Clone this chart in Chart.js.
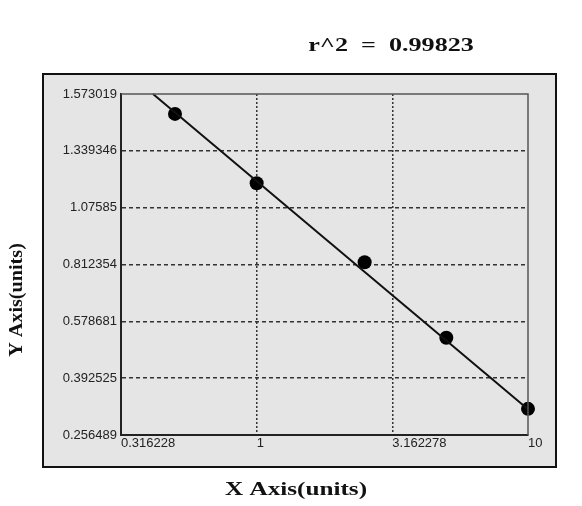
<!DOCTYPE html>
<html>
<head>
<meta charset="utf-8">
<script src="https://cdn.jsdelivr.net/npm/chart.js@4/dist/chart.umd.min.js"></script>
<style>
  html, body { margin: 0; padding: 0; background: #fff; }
  #wrap { width: 582px; height: 506px; }
</style>
</head>
<body>
<div id="wrap"><canvas id="c" width="582" height="506"></canvas></div>
<script>
const xTicks = [0.316228, 1, 3.162278, 10];
const xTickLabels = ["0.316228", "1", "3.162278", "10"];
const yTicks = [0.256489, 0.392525, 0.578681, 0.812354, 1.07585, 1.339346, 1.573019];

// standard points
const xValues = [0.5, 1, 2.5, 5, 10];
const yValues = [1.4912, 1.1892, 0.8229, 0.5247, 0.3191];

// fitted line end points
const fitX = [0.415, 10];
const fitY = [1.573019, 0.318];

const titleText = "r^2  =  0.99823";
const xTitle = "X Axis(units)";
const yTitle = "Y Axis(units)";

// y axis is spaced evenly between its tick values
function yPos(v) {
  for (let i = 0; i < yTicks.length - 1; i++) {
    if (v <= yTicks[i + 1] || i === yTicks.length - 2) {
      return i + (v - yTicks[i]) / (yTicks[i + 1] - yTicks[i]);
    }
  }
  return 0;
}

// text in the picture is stretched sideways
function wideText(ctx, text, x, y, sx) {
  ctx.save();
  ctx.translate(x, y);
  ctx.scale(sx, 1);
  ctx.fillText(text, 0, 0);
  ctx.restore();
}

const panelPlugin = {
  id: "panel",
  beforeDraw(chart) {
    const ctx = chart.ctx;
    ctx.save();
    ctx.fillStyle = "#e5e5e5";
    ctx.fillRect(43, 74, 513, 393);
    ctx.strokeStyle = "#111";
    ctx.lineWidth = 2;
    ctx.strokeRect(43, 74, 513, 393);
    ctx.restore();
  },
  afterDatasetsDraw(chart) {
    const ctx = chart.ctx;
    const a = chart.chartArea;
    ctx.save();
    ctx.strokeStyle = "#555";
    ctx.lineWidth = 1.5;
    ctx.beginPath();
    ctx.moveTo(a.left, a.top);
    ctx.lineTo(a.right, a.top);
    ctx.lineTo(a.right, a.bottom);
    ctx.stroke();
    ctx.restore();
  },
  afterDraw(chart) {
    const ctx = chart.ctx;
    ctx.save();
    ctx.fillStyle = "#111";
    ctx.font = 'bold 18px "Liberation Serif", "DejaVu Serif", serif';
    ctx.textAlign = "center";
    ctx.textBaseline = "alphabetic";
    wideText(ctx, titleText, 391, 51, 1.45);
    wideText(ctx, xTitle, 296, 495, 1.4);
    ctx.translate(22, 300);
    ctx.rotate(-Math.PI / 2);
    wideText(ctx, yTitle, 0, 0, 1.12);
    ctx.restore();
  }
};

const tickFont = { family: '"Liberation Sans", Arial, sans-serif', size: 13 };

new Chart(document.getElementById("c"), {
  type: "scatter",
  data: {
    datasets: [
      {
        type: "line",
        data: fitX.map((x, i) => ({ x: x, y: yPos(fitY[i]) })),
        borderColor: "#111",
        borderWidth: 2,
        pointRadius: 0,
        fill: false,
        clip: false
      },
      {
        data: xValues.map((x, i) => ({ x: x, y: yPos(yValues[i]) })),
        backgroundColor: "#000",
        borderWidth: 0,
        pointRadius: 7,
        clip: false
      }
    ]
  },
  options: {
    responsive: false,
    animation: false,
    layout: { padding: { left: 0, right: 54, top: 94, bottom: 41 } },
    plugins: { legend: { display: false }, tooltip: { enabled: false }, title: { display: false } },
    scales: {
      x: {
        type: "logarithmic",
        bounds: "data",
        min: xTicks[0],
        max: xTicks[xTicks.length - 1],
        afterBuildTicks: s => { s.ticks = xTicks.map(v => ({ value: v })); },
        afterFit: s => { s.height = 30; },
        ticks: {
          autoSkip: false,
          maxRotation: 0,
          align: "start",
          padding: 1,
          color: "#222",
          font: tickFont,
          callback: (v, i) => xTickLabels[i]
        },
        grid: {
          drawTicks: false,
          lineWidth: 1.5,
          color: c => (c.index === 1 || c.index === 2) ? "#333" : "rgba(0,0,0,0)"
        },
        border: { display: true, color: "#222", width: 2, dash: [2, 2] }
      },
      y: {
        type: "linear",
        bounds: "data",
        min: 0,
        max: yTicks.length - 1,
        afterFit: s => { s.width = 121; },
        ticks: {
          stepSize: 1,
          autoSkip: false,
          padding: 4,
          color: "#222",
          font: tickFont,
          callback: v => String(yTicks[v])
        },
        grid: {
          drawTicks: false,
          lineWidth: 1.5,
          color: c => (c.index > 0 && c.index < yTicks.length - 1) ? "#333" : "rgba(0,0,0,0)"
        },
        border: { display: true, color: "#222", width: 2, dash: [4, 3] }
      }
    }
  },
  plugins: [panelPlugin]
});
</script>
</body>
</html>
